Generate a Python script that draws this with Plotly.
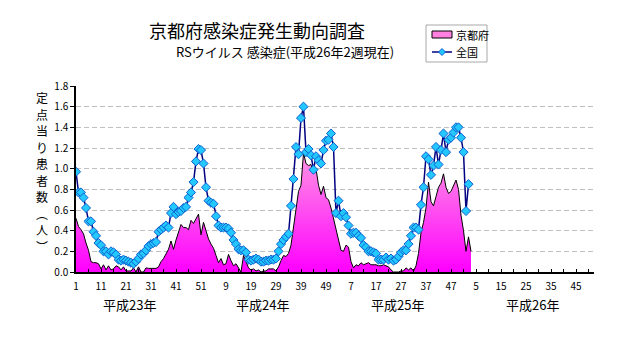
import plotly.graph_objects as go

# weekly values from 平成23年 week 1 onward
kyoto = [0.52, 0.44, 0.41, 0.37, 0.28, 0.21, 0.10, 0.09, 0.09, 0.08,
         0.03, 0.07, 0.02, 0.06, 0.02, 0.03, 0.06, 0.05, 0.02, 0.05,
         0.01, 0.01, 0.01, 0.04, 0.00, 0.05, 0.00, 0.00, 0.04, 0.035,
         0.035, 0.035, 0.035, 0.05, 0.10, 0.13, 0.18, 0.22, 0.30, 0.22,
         0.31, 0.38, 0.46, 0.43, 0.43, 0.41, 0.50, 0.47, 0.52, 0.56,
         0.36, 0.48, 0.40, 0.32, 0.27, 0.23, 0.16, 0.09, 0.13, 0.07,
         0.08, 0.17, 0.11, 0.06, 0.08, 0.04, 0.00, 0.16, 0.10, 0.04,
         0.02, 0.03, 0.01, 0.02, 0.00, 0.01, 0.01, 0.03, 0.03, 0.03,
         0.01, 0.05, 0.11, 0.16, 0.15, 0.18, 0.26, 0.42, 0.62, 0.78,
         0.84, 1.15, 1.05, 1.03, 1.04, 0.95, 1.00, 0.84, 0.75, 0.83,
         0.72, 0.70, 0.62, 0.52, 0.42, 0.30, 0.21, 0.20, 0.26, 0.24,
         0.10, 0.04, 0.07, 0.06, 0.09, 0.07, 0.08, 0.09, 0.07, 0.07,
         0.07, 0.06, 0.06, 0.07, 0.06, 0.05, 0.02, 0.00, 0.00, 0.00,
         0.01, 0.01, 0.04, 0.02, 0.04, 0.01, 0.06, 0.18, 0.38, 0.48,
         0.62, 0.87, 0.68, 0.64, 0.73, 0.82, 0.86, 0.95, 0.82, 0.76,
         0.78, 0.84, 0.89, 0.80, 0.55, 0.40, 0.20, 0.34, 0.20]

national = [0.97, 0.77, 0.77, 0.72, 0.62, 0.49, 0.49, 0.39, 0.35, 0.28,
            0.26, 0.20, 0.20, 0.17, 0.20, 0.19, 0.17, 0.12, 0.11, 0.12,
            0.11, 0.10, 0.09, 0.08, 0.10, 0.13, 0.17, 0.18, 0.21, 0.25,
            0.27, 0.28, 0.29, 0.39, 0.41, 0.43, 0.45, 0.43, 0.57, 0.63,
            0.56, 0.58, 0.59, 0.62, 0.63, 0.72, 0.77, 0.87, 1.07, 1.19,
            1.18, 1.05, 0.82, 0.69, 0.67, 0.66, 0.54, 0.45, 0.43, 0.43,
            0.43, 0.42, 0.38, 0.31, 0.27, 0.22, 0.21, 0.21, 0.19, 0.12,
            0.11, 0.12, 0.13, 0.12, 0.10, 0.10, 0.11, 0.11, 0.12, 0.12,
            0.13, 0.20, 0.27, 0.31, 0.34, 0.37, 0.64, 0.90, 1.21, 1.14,
            1.49, 1.60, 1.16, 1.19, 1.13, 0.99, 1.12, 1.08, 1.05, 1.18,
            1.27, 1.28, 1.34, 1.21, 0.57, 0.69, 0.54, 0.57, 0.53, 0.45,
            0.37, 0.38, 0.38, 0.35, 0.33, 0.26, 0.24, 0.20, 0.20, 0.19,
            0.18, 0.12, 0.12, 0.12, 0.14, 0.12, 0.13, 0.11, 0.12, 0.15,
            0.19, 0.21, 0.21, 0.27, 0.35, 0.43, 0.43, 0.41, 0.65, 0.82,
            1.12, 1.09, 0.94, 1.03, 1.21, 1.04, 1.18, 1.34, 1.16, 1.28,
            1.30, 1.35, 1.40, 1.40, 1.30, 1.16, 0.59, 0.85]

tick_pos = list(range(0, 201, 10))
tick_labels = ["1", "11", "21", "31", "41", "51", "9", "19", "29", "39", "49",
               "7", "17", "27", "37", "47", "5", "15", "25", "35", "45"]
year_labels = ["平成23年", "平成24年", "平成25年", "平成26年"]
year_pos = [21.2, 74.4, 128.6, 182.4]
series_names = ["京都府", "全国"]
y_title = "定点当り患者数︵人︶"

FONT = "Noto Sans CJK JP"
NAVY = "#000080"
MK_FILL = "#22C8FF"
MK_LINE = "#1060D0"

# plot-area pixel geometry (for placing page furniture)
L, R, T, B, W, H = 76, 38, 86, 76, 632, 348
PW, PH = W - L - R, H - T - B


def px_x(px):
    return (px - L) / PW


def px_y(py):
    return (H - B - py) / PH


fig = go.Figure()
fig.add_trace(go.Scatter(
    x=list(range(len(kyoto))), y=kyoto, name=series_names[0], mode="lines",
    line=dict(color="black", width=1),
    fill="tozeroy",
    fillgradient=dict(type="vertical", start=0, stop=1.2,
                      colorscale=[[0, "#FF00FF"], [1, "#FF9CE2"]]),
    showlegend=False,
))
fig.add_trace(go.Scatter(
    x=list(range(len(national))), y=national, name=series_names[1],
    mode="lines+markers",
    line=dict(color=NAVY, width=1.5),
    marker=dict(symbol="diamond", size=7, color=MK_FILL,
                line=dict(color=MK_LINE, width=1)),
    showlegend=False,
))

for lab, pos in zip(year_labels, year_pos):
    fig.add_annotation(x=pos, xref="x", y=px_y(304), yref="paper", text=lab,
                       xanchor="center", yanchor="middle", showarrow=False,
                       font=dict(family=FONT, size=13, color="black"))

fig.add_annotation(x=px_x(256.5), y=px_y(30), xref="paper", yref="paper",
                   xanchor="center", yanchor="middle",
                   text="京都府感染症発生動向調査", showarrow=False,
                   font=dict(family=FONT, size=18, color="black"))
fig.add_annotation(x=px_x(285), y=px_y(52), xref="paper", yref="paper",
                   xanchor="center", yanchor="middle",
                   text="RSウイルス 感染症(平成26年2週現在)", showarrow=False,
                   font=dict(family=FONT, size=13, color="black"))

# vertical (stacked) y-axis title, one glyph per row
n = len(y_title)
for k, ch in enumerate(y_title):
    fig.add_annotation(x=px_x(42), y=px_y(172 + (k - (n - 1) / 2) * 16.5),
                       xref="paper", yref="paper",
                       xanchor="center", yanchor="middle",
                       text=ch, showarrow=False, borderpad=0,
                       font=dict(family=FONT, size=12, color="black"))

# legend box drawn by hand
fig.add_shape(type="rect", xref="paper", yref="paper",
              x0=px_x(426), x1=px_x(487), y0=px_y(62), y1=px_y(25),
              line=dict(color="#A8A8A8", width=1), fillcolor="white")
fig.add_shape(type="rect", xref="paper", yref="paper",
              x0=px_x(432), x1=px_x(452), y0=px_y(38), y1=px_y(31),
              line=dict(color="black", width=1), fillcolor="#FF80E0")
fig.add_shape(type="line", xref="paper", yref="paper",
              x0=px_x(432), x1=px_x(452), y0=px_y(52), y1=px_y(52),
              line=dict(color=NAVY, width=1.5))
cx, cy, d = 442, 52, 3.5
fig.add_shape(type="path", xref="paper", yref="paper",
              path=(f"M {px_x(cx)},{px_y(cy - d)} L {px_x(cx + d)},{px_y(cy)} "
                    f"L {px_x(cx)},{px_y(cy + d)} L {px_x(cx - d)},{px_y(cy)} Z"),
              line=dict(color=MK_LINE, width=1), fillcolor=MK_FILL)
for name, py in zip(series_names, [34.5, 52]):
    fig.add_annotation(x=px_x(454), y=px_y(py), xref="paper", yref="paper",
                       xanchor="left", yanchor="middle", text=name,
                       showarrow=False,
                       font=dict(family=FONT, size=11, color="black"))

fig.update_layout(
    width=W, height=H, autosize=False,
    margin=dict(l=L, r=R, t=T, b=B),
    paper_bgcolor="white", plot_bgcolor="white",
    font=dict(family=FONT, size=10, color="black"),
    showlegend=False,
    xaxis=dict(range=[0, 207.2], tickmode="array", tickvals=tick_pos,
               ticktext=tick_labels, ticks="inside", ticklen=3,
               tickcolor="black", showline=True, linecolor="black",
               linewidth=1.5, showgrid=False, zeroline=False,
               ticklabelstandoff=4,
               minor=dict(dtick=5, tick0=0, ticks="inside", ticklen=3,
                          tickcolor="black", showgrid=False),
               tickfont=dict(family=FONT, size=10)),
    yaxis=dict(range=[0, 1.8], dtick=0.2, tick0=0, tickformat=".1f",
               ticks="outside", ticklen=4, tickcolor="black",
               showline=True, linecolor="black", linewidth=1.5,
               showgrid=True, gridcolor="#C0C0C0", griddash="5px,3px",
               gridwidth=1, zeroline=False,
               tickfont=dict(family=FONT, size=10)),
)

fig.write_html("out.html")
